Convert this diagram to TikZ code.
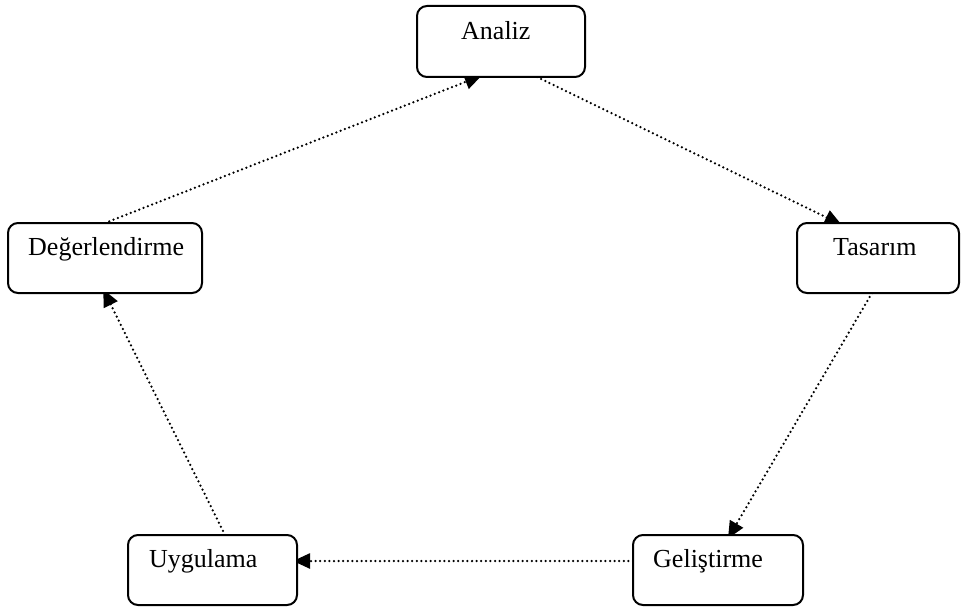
\documentclass[tikz,border=0pt]{standalone}
\usepackage{fontspec}
\setmainfont{Liberation Serif}
\usetikzlibrary{calc,arrows.meta,backgrounds}
\begin{document}
\begin{tikzpicture}[x=1pt,y=-1pt,
  box/.style={draw, line width=2pt, rounded corners=10pt, fill=white,
    inner sep=0pt, outer sep=0pt, anchor=north west},
  lbl/.style={anchor=base west, inner sep=0pt, font=\fontsize{26}{31}\selectfont},
  flow/.style={line width=2.5pt, line cap=round, dash pattern=on 0pt off 4.6pt,
    -{Triangle[length=17pt,width=15pt]}, shorten >=-4pt}]
\useasboundingbox (0,0) rectangle (961,610);

% stage boxes
\node[box, minimum width=168pt, minimum height=71pt] (an) at (417,6) {};
\node[box, minimum width=162pt, minimum height=70pt] (ta) at (797,223) {};
\node[box, minimum width=170pt, minimum height=70pt] (ge) at (633,535) {};
\node[box, minimum width=169pt, minimum height=70pt] (uy) at (128,535) {};
\node[box, minimum width=194pt, minimum height=70pt] (de) at (8,223) {};

% stage names
\node[lbl] (anT) at (461,40) {Analiz};
\node[lbl] (taT) at (833,255) {Tasarım};
\node[lbl] (geT) at (653,567) {Geliştirme};
\node[lbl] (uyT) at (149,567) {Uygulama};
\node[lbl] (deT) at (28,255) {Değerlendirme};

% cycle arrows, kept behind the boxes
\begin{pgfonlayer}{background}
\draw[flow] ($(an.south west)+(120,0)$) -- ($(ta.north west)+(41,0)$);
\draw[flow] ($(ta.south west)+(75,0)$) -- ($(ge.north west)+(97,0)$);
\draw[flow] ($(ge.west)+(0,-9)$) -- ($(uy.east)+(0,-9)$);
\draw[flow] ($(uy.north west)+(97,0)$) -- ($(de.south west)+(97,0)$);
\draw[flow] ($(de.north west)+(97,0)$) -- ($(an.south west)+(61,0)$);
\end{pgfonlayer}
\end{tikzpicture}
\end{document}
